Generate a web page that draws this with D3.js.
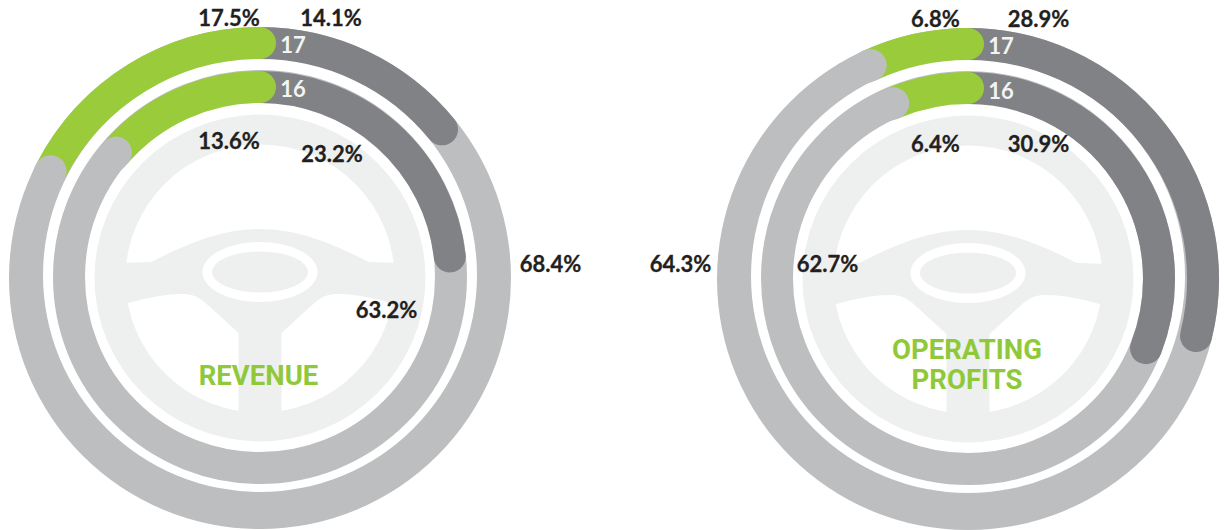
<!DOCTYPE html>
<html>
<head>
<meta charset="utf-8">
<script src="https://cdn.jsdelivr.net/npm/d3@7"></script>
<style>
    body { margin: 0; background: #fff; }
    svg { display: block; }
    .pct { font-family: Lato, sans-serif; font-weight: 700; font-size: 22px; fill: #231f20; stroke: #231f20; stroke-width: 0.3px; text-anchor: middle; }
    .yr { font-family: Lato, sans-serif; font-weight: 700; font-size: 22px; fill: #f4f4f4; text-anchor: middle; }
    .title { font-family: Roboto, sans-serif; font-weight: 700; font-size: 27.5px; fill: #8fc93a; text-anchor: middle; }
</style>
</head>
<body>
<script>
    // share of total, in percent: [dark, light, green]
    var revenue17 = [14.1, 68.4, 17.5];
    var revenue16 = [23.2, 63.2, 13.6];
    var profits17 = [28.9, 64.3, 6.8];
    var profits16 = [30.9, 62.7, 6.4];
    var years = ["17", "16"];
    var titleRevenue = ["REVENUE"];
    var titleProfits = ["OPERATING", "PROFITS"];

    var width = 1226, height = 530;
    var ringWidth = 32;
    var outerR = 235, innerR = 191;
    var dark = "#808285", light = "#bcbec0", green = "#9acb3b", wheel = "#eef0ef";

    var svg = d3.select("body").append("svg")
        .attr("width", width)
        .attr("height", height);

    var pie = d3.pie().sort(null).value(function (d) { return d; });

    // open arc so the round caps show; angles are clockwise from 12 o'clock
    function lineArc(r, a0, a1) {
        var p = d3.path();
        p.arc(0, 0, r, a0 - Math.PI / 2, a1 - Math.PI / 2);
        return p.toString();
    }

    function drawBase(g) {
        // the light rings are not quite concentric in the original
        g.append("circle").attr("r", outerR + ringWidth / 2).attr("fill", light);
        g.append("circle").attr("cy", -3).attr("r", 217).attr("fill", "#fff");
        g.append("circle").attr("cy", -1).attr("r", innerR)
            .attr("fill", "none")
            .attr("stroke", light)
            .attr("stroke-width", ringWidth);
    }

    function drawRing(g, values, r) {
        var p = pie(values);
        var stroke = function (color, a0, a1) {
            g.append("path")
                .attr("d", lineArc(r, a0, a1))
                .attr("fill", "none")
                .attr("stroke", color)
                .attr("stroke-width", ringWidth)
                .attr("stroke-linecap", "round");
        };
        stroke(dark, p[0].startAngle, p[0].endAngle);
        stroke(green, p[2].startAngle, p[2].endAngle);
        // light cap sits on top of the green start
        stroke(light, p[1].endAngle - 0.02, p[1].endAngle);
    }

    // wheel shapes are relative to the ring centre
    function drawWheel(g, id) {
        g.append("ellipse").attr("rx", 165.5).attr("ry", 163.5).attr("fill", wheel);

        g.append("clipPath").attr("id", id)
            .append("ellipse").attr("rx", 134.5).attr("cy", 0.5).attr("ry", 134);

        var top = d3.path();
        top.moveTo(-150, -15);
        top.lineTo(-109, -16);
        top.bezierCurveTo(-75, -33, -40, -49, 0, -49);
        top.bezierCurveTo(40, -49, 75, -33, 109, -16);
        top.lineTo(150, -15);
        top.lineTo(150, -150);
        top.lineTo(-150, -150);
        top.closePath();

        var spokes = [-1, 1].map(function (s) {
            var q = d3.path();
            q.moveTo(s * 150, 30);
            q.bezierCurveTo(s * 115, 20, s * 95, 16, s * 78, 16);
            q.bezierCurveTo(s * 62, 16, s * 56, 24, s * 50, 29);
            q.lineTo(s * 21.5, 55);
            q.lineTo(s * 21.5, 150);
            q.lineTo(s * 150, 150);
            q.closePath();
            return q.toString();
        });

        g.selectAll("path.hole")
            .data([top.toString()].concat(spokes))
            .enter().append("path")
            .attr("class", "hole")
            .attr("d", function (d) { return d; })
            .attr("fill", "#fff")
            .attr("clip-path", "url(#" + id + ")");

        g.append("ellipse").attr("cy", -6).attr("rx", 57.5).attr("ry", 30).attr("fill", "#fff");
        g.append("ellipse").attr("cy", -6).attr("rx", 48).attr("ry", 20.5).attr("fill", wheel);
    }

    function addText(cls, x, y, txt) {
        svg.append("text").attr("class", cls).attr("x", x).attr("y", y).text(txt);
    }

    function pct(v) { return d3.format(".1f")(v) + "%"; }

    // left chart
    var left = svg.append("g").attr("transform", "translate(260,278)");
    drawBase(left);
    drawWheel(left, "clipLeft");
    drawRing(left, revenue17, outerR);
    drawRing(left, revenue16, innerR);

    // right chart
    var right = svg.append("g").attr("transform", "translate(968,279)");
    drawBase(right);
    drawWheel(right, "clipRight");
    drawRing(right, profits17, outerR);
    drawRing(right, profits16, innerR);

    addText("pct", 229, 26, pct(revenue17[2]));
    addText("pct", 331, 26, pct(revenue17[0]));
    addText("pct", 550.5, 272, pct(revenue17[1]));
    addText("pct", 229, 149, pct(revenue16[2]));
    addText("pct", 332, 162, pct(revenue16[0]));
    addText("pct", 386.5, 318, pct(revenue16[1]));

    addText("pct", 935.5, 27, pct(profits17[2]));
    addText("pct", 1038.5, 27, pct(profits17[0]));
    addText("pct", 680.5, 272, pct(profits17[1]));
    addText("pct", 935.5, 152, pct(profits16[2]));
    addText("pct", 1038.5, 152, pct(profits16[0]));
    addText("pct", 827.5, 272, pct(profits16[1]));

    addText("yr", 293, 53, years[0]);
    addText("yr", 293, 97, years[1]);
    addText("yr", 1001, 54, years[0]);
    addText("yr", 1001, 99, years[1]);

    addText("title", 258.5, 385, titleRevenue[0]);
    addText("title", 967, 359, titleProfits[0]);
    addText("title", 967, 389, titleProfits[1]);
</script>
</body>
</html>
